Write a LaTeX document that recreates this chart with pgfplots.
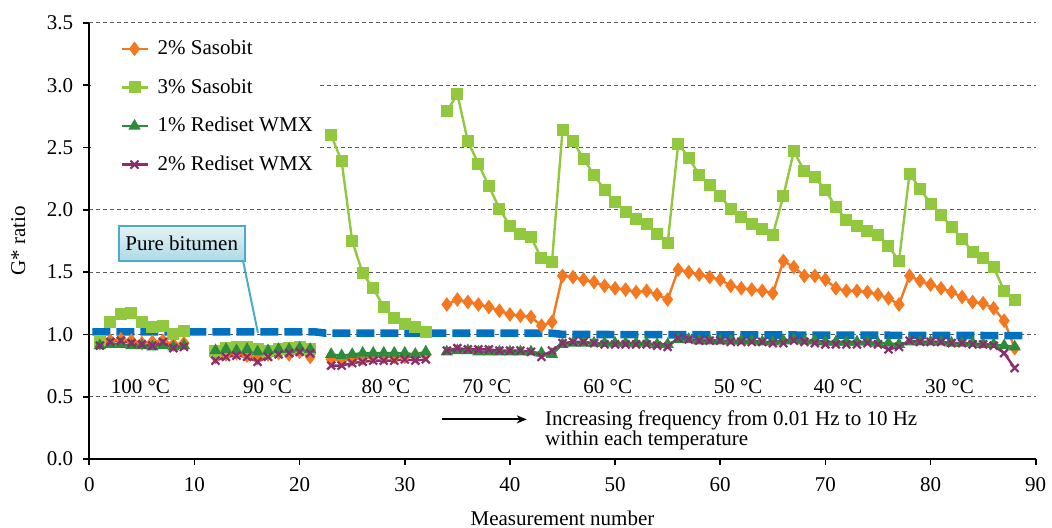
\documentclass[border=0pt]{standalone}
\usepackage{fontspec}
\setmainfont{Liberation Serif}
\usepackage{pgfplots}
\pgfplotsset{compat=1.18}
\usetikzlibrary{arrows.meta}
\definecolor{cSa}{RGB}{243,120,32}
\definecolor{cSb}{RGB}{146,200,62}
\definecolor{cRa}{RGB}{44,140,60}
\definecolor{cRb}{RGB}{139,44,108}
\definecolor{cPB}{RGB}{0,112,192}
\definecolor{cTeal}{RGB}{75,172,198}
\newcommand{\ff}{\fontsize{10.5}{12.5}\selectfont}
\begin{document}
\begin{tikzpicture}
\begin{axis}[
  scale only axis, width=473.2pt, height=218pt,
  xmin=0, xmax=90, ymin=0, ymax=3.5,
  xtick={0,10,...,90}, ytick={0,0.5,...,3.5},
  axis x line*=bottom, axis y line*=left,
  axis line style={line width=0.8pt, black},
  tick style={line width=0.8pt, black}, tick align=outside, major tick length=3pt,
  ymajorgrids, grid style={dash pattern=on 2pt off 1.5pt, line width=0.5pt, black!65},
  yticklabel style={/pgf/number format/fixed, /pgf/number format/fixed zerofill, /pgf/number format/precision=1, xshift=-1.5pt},
  xticklabel style={yshift=-2.5pt},
  /pgf/number format/assume math mode=true,
  ticklabel style={font=\ff},
  label style={font=\ff},
  xlabel={Measurement number}, ylabel={G* ratio},
  xlabel style={at={(axis description cs:0.5,-0.1353)}, anchor=center},
  ylabel style={at={(axis description cs:-0.075,0.5)}, anchor=center},
  unbounded coords=jump,
  legend style={draw=none, fill=none, at={(axis description cs:0.026,0.98)}, anchor=north west,
    row sep=6.5pt, column sep=2.5pt, font=\ff},
  legend cell align=left,
  legend image code/.code={\draw[mark repeat=2,mark phase=2,#1] plot coordinates {(0pt,0pt) (6.5pt,0pt) (13pt,0pt)};},
]
\fill[white] (axis cs:0.15,2.2) rectangle (axis cs:21.7,3.46);

\addplot[color=cSa, line width=1.2pt, mark=diamond*, mark size=2.7pt, mark options={solid}] coordinates {
(1,0.93)(2,0.95)(3,0.96)(4,0.95)(5,0.93)(6,0.94)(7,0.95)(8,0.92)(9,0.93)(10,nan)
(12,0.82)(13,0.84)(14,0.85)(15,0.83)(16,0.81)(17,0.84)(18,0.85)(19,0.84)(20,0.86)(21,0.82)(22,nan)
(23,0.80)(24,0.79)(25,0.80)(26,0.81)(27,0.82)(28,0.82)(29,0.82)(30,0.82)(31,0.83)(32,0.84)(33,nan)
(34,1.24)(35,1.28)(36,1.26)(37,1.24)(38,1.22)(39,1.19)(40,1.16)(41,1.15)(42,1.14)(43,1.07)(44,1.10)
(45,1.47)(46,1.46)(47,1.44)(48,1.42)(49,1.39)(50,1.37)(51,1.36)(52,1.34)(53,1.35)(54,1.32)(55,1.28)
(56,1.52)(57,1.50)(58,1.48)(59,1.46)(60,1.44)(61,1.39)(62,1.37)(63,1.36)(64,1.35)(65,1.33)
(66,1.59)(67,1.54)(68,1.47)(69,1.47)(70,1.44)(71,1.37)(72,1.35)(73,1.35)(74,1.34)(75,1.32)(76,1.29)(77,1.24)
(78,1.47)(79,1.43)(80,1.40)(81,1.37)(82,1.34)(83,1.30)(84,1.26)(85,1.25)(86,1.21)(87,1.11)(88,0.89)
};
\addlegendentry{2\% Sasobit}

\addplot[color=cSb, line width=1.2pt, mark=square*, mark size=2.4pt, mark options={solid}] coordinates {
(1,0.95)(2,1.10)(3,1.16)(4,1.17)(5,1.10)(6,1.06)(7,1.07)(8,1.00)(9,1.03)(10,nan)
(12,0.87)(13,0.89)(14,0.90)(15,0.90)(16,0.88)(17,0.87)(18,0.88)(19,0.89)(20,0.90)(21,0.88)(22,nan)
(23,2.60)(24,2.39)(25,1.75)(26,1.49)(27,1.37)(28,1.22)(29,1.13)(30,1.08)(31,1.06)(32,1.02)(33,nan)
(34,2.79)(35,2.93)(36,2.55)(37,2.37)(38,2.19)(39,2.01)(40,1.87)(41,1.81)(42,1.78)(43,1.61)(44,1.58)
(45,2.64)(46,2.55)(47,2.41)(48,2.28)(49,2.16)(50,2.06)(51,1.98)(52,1.93)(53,1.89)(54,1.81)(55,1.73)
(56,2.53)(57,2.42)(58,2.28)(59,2.20)(60,2.11)(61,2.01)(62,1.94)(63,1.89)(64,1.85)(65,1.80)
(66,2.11)(67,2.47)(68,2.31)(69,2.26)(70,2.16)(71,2.02)(72,1.92)(73,1.87)(74,1.83)(75,1.80)(76,1.71)(77,1.59)
(78,2.29)(79,2.17)(80,2.05)(81,1.96)(82,1.86)(83,1.77)(84,1.66)(85,1.61)(86,1.54)(87,1.35)(88,1.28)
};
\addlegendentry{3\% Sasobit}

\addplot[color=cRa, line width=1.2pt, mark=triangle*, mark size=2.4pt, mark options={solid}] coordinates {
(1,0.91)(2,0.92)(3,0.92)(4,0.91)(5,0.91)(6,0.90)(7,0.91)(8,0.90)(9,0.91)(10,nan)
(12,0.87)(13,0.88)(14,0.87)(15,0.88)(16,0.86)(17,0.87)(18,0.88)(19,0.88)(20,0.89)(21,0.88)(22,nan)
(23,0.84)(24,0.83)(25,0.84)(26,0.85)(27,0.85)(28,0.85)(29,0.85)(30,0.85)(31,0.84)(32,0.86)(33,nan)
(34,0.86)(35,0.87)(36,0.87)(37,0.86)(38,0.86)(39,0.86)(40,0.86)(41,0.86)(42,0.86)(43,0.85)(44,0.84)
(45,0.92)(46,0.93)(47,0.93)(48,0.93)(49,0.93)(50,0.93)(51,0.93)(52,0.93)(53,0.93)(54,0.92)(55,0.92)
(56,0.96)(57,0.96)(58,0.95)(59,0.95)(60,0.95)(61,0.95)(62,0.95)(63,0.95)(64,0.94)(65,0.94)
(66,0.95)(67,0.96)(68,0.95)(69,0.95)(70,0.94)(71,0.94)(72,0.94)(73,0.94)(74,0.94)(75,0.93)(76,0.93)(77,0.92)
(78,0.94)(79,0.94)(80,0.94)(81,0.94)(82,0.93)(83,0.93)(84,0.93)(85,0.92)(86,0.92)(87,0.91)(88,0.90)
};
\addlegendentry{1\% Rediset WMX}

\addplot[color=cRb, line width=1.2pt, mark=x, mark size=2.8pt, mark options={solid, line width=1.1pt}] coordinates {
(1,0.91)(2,0.94)(3,0.95)(4,0.93)(5,0.92)(6,0.91)(7,0.94)(8,0.89)(9,0.90)(10,nan)
(12,0.79)(13,0.82)(14,0.83)(15,0.82)(16,0.78)(17,0.82)(18,0.84)(19,0.85)(20,0.86)(21,0.85)(22,nan)
(23,0.75)(24,0.75)(25,0.77)(26,0.78)(27,0.79)(28,0.79)(29,0.79)(30,0.80)(31,0.79)(32,0.80)(33,nan)
(34,0.87)(35,0.89)(36,0.88)(37,0.88)(38,0.88)(39,0.87)(40,0.87)(41,0.87)(42,0.86)(43,0.82)(44,0.87)
(45,0.93)(46,0.94)(47,0.94)(48,0.93)(49,0.92)(50,0.92)(51,0.92)(52,0.92)(53,0.92)(54,0.91)(55,0.90)
(56,0.97)(57,0.96)(58,0.95)(59,0.95)(60,0.95)(61,0.94)(62,0.94)(63,0.94)(64,0.94)(65,0.93)
(66,0.93)(67,0.95)(68,0.94)(69,0.93)(70,0.92)(71,0.92)(72,0.92)(73,0.92)(74,0.93)(75,0.92)(76,0.88)(77,0.90)
(78,0.95)(79,0.94)(80,0.94)(81,0.94)(82,0.93)(83,0.93)(84,0.92)(85,0.92)(86,0.91)(87,0.85)(88,0.73)
};
\addlegendentry{2\% Rediset WMX}

\addplot[color=cPB, line width=3.8pt, dash pattern=on 9pt off 3pt, no markers, forget plot] coordinates {
(0.3,1.02)(21.5,1.02)(22.5,1.01)(44,1.01)(45,1.00)(89.3,0.99)
};

\draw[cTeal, line width=1pt] (axis cs:14.6,1.60) -- (axis cs:16.04,1.011);
\node[draw=cTeal, line width=1pt, top color=cTeal!15, bottom color=cTeal!45, minimum width=63pt, minimum height=17.4pt, inner sep=0pt, font=\ff] at (axis cs:8.79,1.731) {Pure bitumen};

\foreach \xx/\tt in {4.86/100, 16.94/90, 28.2/80, 37.79/70, 49.3/60, 61.7/50, 71.2/40, 81.8/30}{
  \edef\tmp{\noexpand\node[anchor=base, inner sep=0pt, font=\noexpand\ff] at (axis cs:\xx,0.527) {\tt\space °C};}\tmp
}
\draw[line width=1pt, -{Stealth[length=5pt,width=4pt]}] (axis cs:33.5,0.318) -- (axis cs:41.6,0.318);
\node[anchor=base west, inner sep=0pt, font=\ff] at (axis cs:43.32,0.265) {Increasing frequency from 0.01 Hz to 10 Hz};
\node[anchor=base west, inner sep=0pt, font=\ff] at (axis cs:43.32,0.112) {within each temperature};
\end{axis}
\pgfresetboundingbox
\path (-44.65pt,-34.5pt) rectangle (481.35pt,229.5pt);
\end{tikzpicture}
\end{document}
